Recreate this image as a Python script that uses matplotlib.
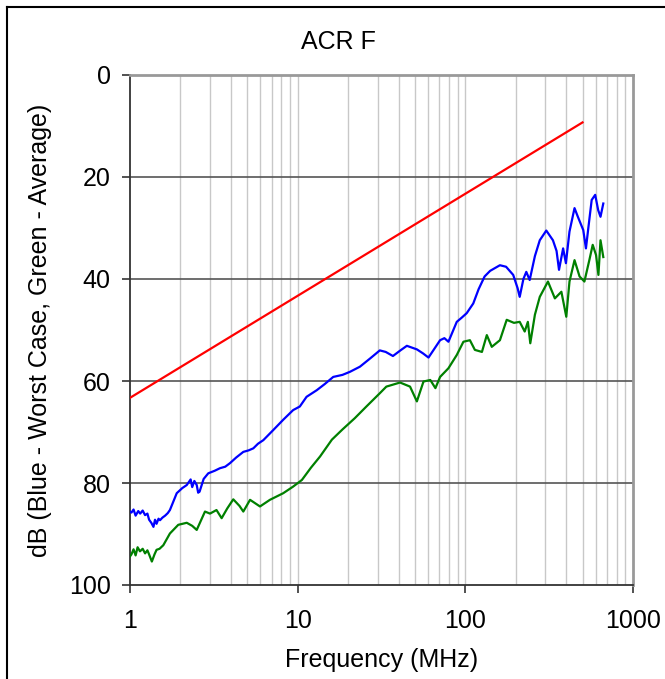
import numpy as np
import matplotlib.pyplot as plt
from matplotlib.lines import Line2D
from matplotlib.ticker import FixedLocator, NullFormatter

plt.rcParams['font.family'] = ['Liberation Sans', 'DejaVu Sans']

# limit line
red_freq = [1, 500]
red_db = [63.3, 9.3]

# worst case
blue_freq = [1.0, 1.02, 1.05, 1.08, 1.12, 1.15, 1.19, 1.23, 1.27, 1.3, 1.34, 1.38, 1.41, 1.44,
             1.48, 1.51, 1.56, 1.62, 1.68, 1.73, 1.9, 2.05, 2.18, 2.3, 2.35, 2.42, 2.5, 2.55,
             2.6, 2.75, 2.93, 3.2, 3.44, 3.7, 3.95, 4.3, 4.74, 5.1, 5.44, 5.8, 6.24,
             7.16, 8.2, 9.4, 10.3, 11.3, 13.0, 14.5, 16.3, 18.5, 20.5, 23.5, 27, 30.9, 33.5,
             37, 41, 44.8, 51.4, 56, 60.3, 65, 70.7, 75, 79.3, 88.9, 95, 101.9, 111.5, 120,
             130.3, 140.6, 160.8, 175, 193, 205, 211, 222, 231, 242, 260, 278, 304, 333, 350,
             362, 383, 398, 418, 448, 469, 505, 524, 541, 567, 595, 620, 640, 665]
blue_db = [85.6, 85.8, 85.2, 86.4, 85.5, 86.0, 85.4, 86.3, 86.0, 87.2, 87.8, 88.6, 87.2, 88.0,
           87.0, 87.3, 86.8, 86.4, 85.9, 85.3, 82.0, 81.0, 80.4, 79.3, 80.8, 79.6, 80.4, 81.9,
           81.7, 79.2, 78.1, 77.6, 77.1, 76.8, 76.1, 75.0, 73.9, 73.6, 73.2, 72.3,
           71.6, 69.6, 67.6, 65.7, 65.0, 63.1, 61.8, 60.6, 59.2, 58.8, 58.2, 57.2, 55.6, 54.0,
           54.3, 55.1, 54.0, 53.1, 53.8, 54.6, 55.4, 53.8, 52.0, 51.6, 52.3, 48.4, 47.6, 46.7,
           44.8, 42.0, 39.5, 38.4, 37.3, 37.6, 39.2, 41.8, 43.5, 40.0, 38.6, 40.2, 35.5, 32.4,
           30.5, 32.4, 34.5, 38.2, 34.0, 36.9, 30.7, 26.1, 27.8, 30.4, 34.0, 30.1, 24.5, 23.5,
           26.5, 27.8, 25.2]

# average
green_freq = [1.0, 1.02, 1.05, 1.08, 1.11, 1.147, 1.19, 1.23, 1.27, 1.3, 1.35, 1.4, 1.44, 1.5,
              1.58, 1.73, 1.94, 2.18, 2.35, 2.5, 2.8, 3.0, 3.28, 3.52, 3.8, 4.13, 4.5, 4.74,
              5.2, 5.96, 6.83, 8.2, 9.4, 10.6,
              12.0, 13.6, 16.0, 18.5, 21.9, 25.7, 30.9, 33.8, 40.8, 46.8, 51.4, 56.3, 61.8,
              66.3, 70.7, 79.3, 88.9, 97.4, 106.5, 114, 125.6, 134.3, 143.8, 160.8, 176.5, 195,
              211, 226, 236, 244, 260, 278, 311, 342, 374, 400, 418, 448, 480, 513, 549, 575,
              602, 622, 640, 665]
green_db = [94.4, 94.0, 93.0, 94.2, 92.6, 93.4, 92.9, 93.8, 93.2, 94.0, 95.4, 94.0, 93.1, 92.9,
            92.2, 89.9, 88.2, 87.8, 88.4, 89.2, 85.6, 86.0, 85.3, 86.9, 85.0, 83.2, 84.5, 85.6,
            83.3, 84.6, 83.3, 82.0, 80.7, 79.4,
            77.0, 74.8, 71.5, 69.5, 67.3, 65.0, 62.4, 61.1, 60.3, 61.1, 64.0, 60.1, 59.8, 61.4,
            59.2, 57.5, 54.9, 52.3, 52.0, 53.9, 54.3, 51.0, 53.3, 52.0, 48.0, 48.6, 48.4, 50.3,
            48.4, 52.6, 47.0, 43.5, 40.5, 43.8, 42.5, 47.4, 40.5, 36.3, 39.5, 40.5, 36.3, 33.3,
            35.3, 39.2, 32.4, 35.7]

fig = plt.figure(figsize=(6.65, 6.79), dpi=100)
ax = fig.add_axes([130 / 665, 1 - 585 / 679, 503 / 665, 510 / 679])

ax.plot(red_freq, red_db, color='#ff0000', lw=1.6, zorder=3)
ax.plot(blue_freq, blue_db, color='#0000ff', lw=1.6, zorder=3)
ax.plot(green_freq, green_db, color='#008000', lw=1.6, zorder=3)

ax.set_xscale('log')
ax.set_xlim(1, 1000)
ax.set_ylim(100, 0)

minor = [m * d for d in (1, 10, 100) for m in range(2, 10)]
for x in minor + [10, 100]:
    ax.axvline(x, color='#c8c8c8', lw=1, zorder=1)
for y in (20, 40, 60, 80):
    ax.axhline(y, color='#555555', lw=1.2, zorder=2)

ax.xaxis.set_major_locator(FixedLocator([1, 10, 100, 1000]))
ax.xaxis.set_minor_locator(FixedLocator([]))
ax.xaxis.set_minor_formatter(NullFormatter())
ax.set_xticklabels(['1', '10', '100', '1000'])
ax.set_yticks([0, 20, 40, 60, 80, 100])
ax.tick_params(axis='both', which='major', direction='out', length=6, width=1.2,
               color='#333333', labelsize=18)
ax.tick_params(axis='x', pad=11)
ax.tick_params(axis='y', pad=8)

for s in ('left', 'bottom'):
    ax.spines[s].set_color('#333333')
    ax.spines[s].set_linewidth(1.3)
for s in ('top', 'right'):
    ax.spines[s].set_color('#999999')
    ax.spines[s].set_linewidth(2)

ax.set_xlabel('Frequency (MHz)', fontsize=18, labelpad=11)
ax.set_ylabel('dB (Blue - Worst Case, Green - Average)', fontsize=18, labelpad=12)

fig.text(338 / 665, 1 - 42 / 679, 'ACR F', ha='center', va='center', fontsize=18)

# outer frame, top and left edges only
fig.add_artist(Line2D([7 / 665, 7 / 665], [0, 1 - 6.5 / 679], transform=fig.transFigure,
                      color='black', lw=1.5))
fig.add_artist(Line2D([7 / 665, 1], [1 - 6.5 / 679, 1 - 6.5 / 679], transform=fig.transFigure,
                      color='black', lw=1.5))

fig.savefig('out.png', dpi=100)
